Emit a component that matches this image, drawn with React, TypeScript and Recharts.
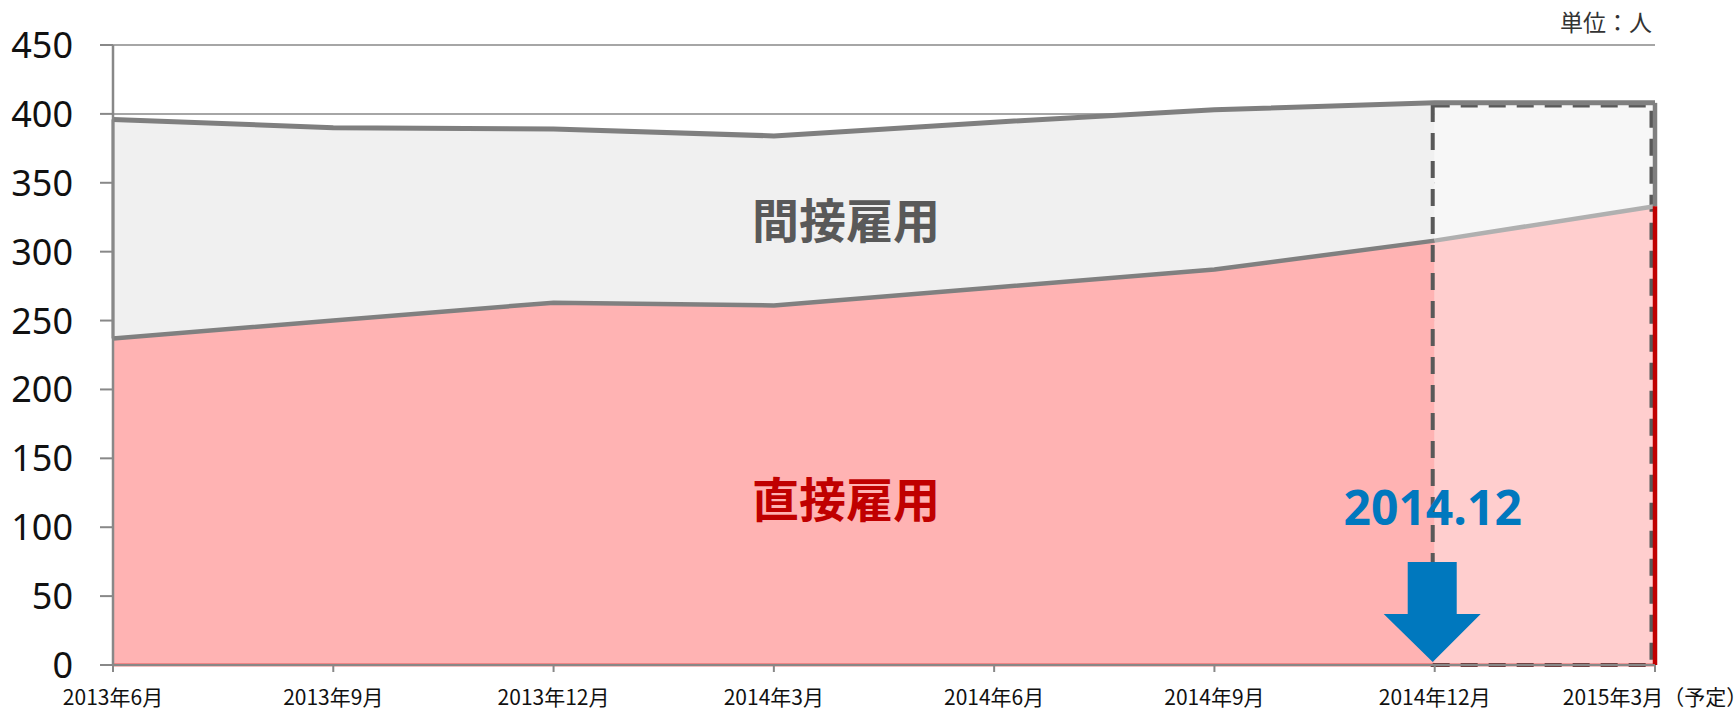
import React from 'react';
import {
  ComposedChart,
  Area,
  Line,
  XAxis,
  YAxis,
  CartesianGrid,
  ReferenceLine,
  ReferenceArea,
  ReferenceDot,
} from 'recharts';

const categories = [
  '2013年6月',
  '2013年9月',
  '2013年12月',
  '2014年3月',
  '2014年6月',
  '2014年9月',
  '2014年12月',
  '2015年3月（予定）',
];
const directHires = [237, 250, 263, 261, 274, 287, 308, 333];
const indirectHires = [159, 140, 126, 123, 120, 116, 100, 75];
const yTicks = [0, 50, 100, 150, 200, 250, 300, 350, 400, 450];
const forecastStartIndex = 6;
const forecastBoxTop = 406;
const arrowLabel = '2014.12';
const unitLabel = '単位：人';
const indirectLabel = '間接雇用';
const directLabel = '直接雇用';

const data = categories.map((label, i) => {
  const direct = directHires[i];
  const total = directHires[i] + indirectHires[i];
  return {
    label,
    direct,
    total,
    directActual: i <= forecastStartIndex ? direct : null,
    directForecast: i >= forecastStartIndex ? direct : null,
    totalActual: i <= forecastStartIndex ? total : null,
    totalForecast: i >= forecastStartIndex ? total : null,
  };
});

const lastIdx = categories.length - 1;
const firstCat = categories[0];
const lastCat = categories[lastIdx];
const forecastCat = categories[forecastStartIndex];

const XTick = (props: any) => {
  const { x, y, payload } = props;
  return (
    <text
      x={x}
      y={y + 31}
      textAnchor="middle"
      fontFamily="'Noto Sans CJK JP', 'Noto Sans', sans-serif"
      fontSize={21}
      fill="#111"
    >
      {payload.value}
    </text>
  );
};

const YTick = (props: any) => {
  const { x, y, payload } = props;
  return (
    <text
      x={x}
      y={y + 13}
      textAnchor="end"
      fontFamily="'Noto Sans', 'Open Sans', sans-serif"
      fontSize={36}
      fill="#111"
    >
      {payload.value}
    </text>
  );
};

const ArrowShape = (props: any) => {
  const { cx, cy } = props;
  if (cx == null || cy == null) return null;
  const tipX = cx - 2;
  const tipY = cy - 3;
  const pts = [
    [tipX, tipY],
    [tipX - 49, tipY - 48],
    [tipX - 25, tipY - 48],
    [tipX - 25, tipY - 100],
    [tipX + 24, tipY - 100],
    [tipX + 24, tipY - 48],
    [tipX + 48, tipY - 48],
  ]
    .map((p) => p.join(','))
    .join(' ');
  return (
    <g>
      <polygon points={pts} fill="#0078BE" />
      <text
        x={tipX}
        y={tipY - 137}
        textAnchor="middle"
        fontFamily="'Open Sans', 'Noto Sans', sans-serif"
        fontWeight={700}
        fontSize={48}
        fill="#0078BE"
      >
        {arrowLabel}
      </text>
    </g>
  );
};

const DashedBox = (props: any) => {
  const { x, y, width, height } = props;
  if (x == null) return null;
  return (
    <rect
      x={x - 2}
      y={y}
      width={width - 1.5}
      height={height}
      fill="none"
      stroke="#595959"
      strokeWidth={4}
      strokeDasharray="17 11"
    />
  );
};

export default function App() {
  return (
    <div style={{ position: 'absolute', left: 0, top: 0, width: 1736, height: 710, background: '#fff' }}>
      <ComposedChart
        width={1736}
        height={710}
        data={data}
        margin={{ top: 45, right: 81, bottom: 0, left: 0 }}
      >
        <CartesianGrid horizontal vertical={false} stroke="#888" strokeWidth={1.5} />
        <XAxis
          dataKey="label"
          scale="point"
          padding={{ left: 0, right: 0 }}
          height={45}
          interval={0}
          tickSize={7}
          axisLine={{ stroke: '#888', strokeWidth: 2 }}
          tickLine={{ stroke: '#888', strokeWidth: 2 }}
          tick={<XTick />}
        />
        <YAxis
          width={113}
          domain={[0, 450]}
          ticks={yTicks}
          interval={0}
          tickSize={13}
          tickMargin={27}
          axisLine={{ stroke: '#888', strokeWidth: 2.5 }}
          tickLine={{ stroke: '#888', strokeWidth: 2 }}
          tick={<YTick />}
        />
        <Area dataKey="totalActual" type="linear" fill="#F0F0F0" fillOpacity={1} stroke="none" isAnimationActive={false} />
        <Area dataKey="totalForecast" type="linear" fill="#F7F7F7" fillOpacity={1} stroke="none" isAnimationActive={false} />
        <Area dataKey="directActual" type="linear" fill="#FFB3B3" fillOpacity={1} stroke="none" isAnimationActive={false} />
        <Area dataKey="directForecast" type="linear" fill="#FFCECE" fillOpacity={1} stroke="none" isAnimationActive={false} />
        <ReferenceLine
          segment={[{ x: firstCat, y: 0 }, { x: firstCat, y: directHires[0] }]}
          stroke="#C00000"
          strokeWidth={2}
          ifOverflow="visible"
        />
        <ReferenceLine
          segment={[{ x: firstCat, y: directHires[0] }, { x: firstCat, y: directHires[0] + indirectHires[0] }]}
          stroke="#808080"
          strokeWidth={3}
          ifOverflow="visible"
        />
        <ReferenceLine y={0} stroke="#C00000" strokeWidth={2.5} ifOverflow="visible" />
        <ReferenceArea
          x1={forecastCat}
          x2={lastCat}
          y1={0}
          y2={forecastBoxTop}
          ifOverflow="visible"
          shape={DashedBox}
        />
        <Line dataKey="total" type="linear" stroke="#7F7F7F" strokeWidth={5} strokeLinejoin="round" dot={false} activeDot={false} isAnimationActive={false} />
        <Line dataKey="directActual" type="linear" stroke="#808080" strokeWidth={4.5} strokeLinejoin="round" dot={false} activeDot={false} isAnimationActive={false} />
        <Line dataKey="directForecast" type="linear" stroke="#B0B0B0" strokeWidth={4.5} dot={false} activeDot={false} isAnimationActive={false} />
        <ReferenceLine
          segment={[{ x: lastCat, y: directHires[lastIdx] }, { x: lastCat, y: directHires[lastIdx] + indirectHires[lastIdx] }]}
          stroke="#7F7F7F"
          strokeWidth={4.5}
          ifOverflow="visible"
        />
        <ReferenceLine
          segment={[{ x: lastCat, y: 0 }, { x: lastCat, y: directHires[lastIdx] }]}
          stroke="#C00000"
          strokeWidth={4.5}
          ifOverflow="visible"
        />
        <ReferenceDot x={forecastCat} y={0} r={0} ifOverflow="visible" shape={ArrowShape} />
      </ComposedChart>
      <svg
        width={1736}
        height={710}
        style={{ position: 'absolute', left: 0, top: 0, pointerEvents: 'none' }}
      >
        <text
          x={1652}
          y={31}
          textAnchor="end"
          fontFamily="'Noto Sans CJK JP', sans-serif"
          fontSize={23}
          fill="#333"
        >
          {unitLabel}
        </text>
        <text
          x={846}
          y={238}
          textAnchor="middle"
          fontFamily="'Noto Sans CJK JP', sans-serif"
          fontWeight={700}
          fontSize={47}
          fill="#595959"
        >
          {indirectLabel}
        </text>
        <text
          x={846}
          y={517}
          textAnchor="middle"
          fontFamily="'Noto Sans CJK JP', sans-serif"
          fontWeight={700}
          fontSize={47}
          fill="#C00000"
        >
          {directLabel}
        </text>
      </svg>
    </div>
  );
}
